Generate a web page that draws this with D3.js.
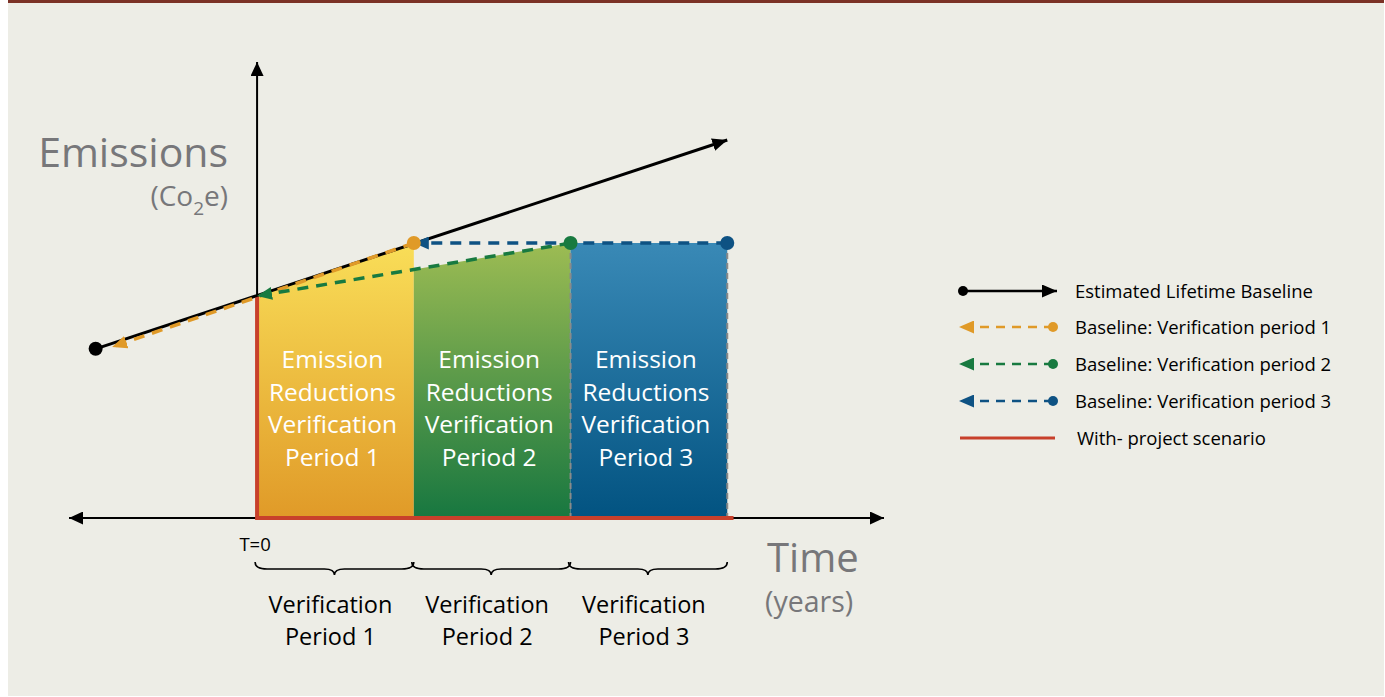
<!DOCTYPE html>
<html>
<head>
<meta charset="utf-8">
<script src="https://cdn.jsdelivr.net/npm/d3@7"></script>
<style>
  body { margin: 0; background: #fff; }
  svg { display: block; font-family: "Open Sans", sans-serif; }
</style>
</head>
<body>
<div id="chart"></div>
<script>
// Data (time in verification periods, emissions in arbitrary units)
const periods = [1, 2, 3]
const periodStart = [0, 1, 2]
const periodEnd = [1, 2, 3]
const periodLabels = ['Verification Period 1', 'Verification Period 2', 'Verification Period 3']
const areaLabels = ['Emission|Reductions|Verification|Period 1', 'Emission|Reductions|Verification|Period 2', 'Emission|Reductions|Verification|Period 3']
const areaTopStart = [4.87, 5.45, 6.03]
const areaTopEnd = [6.03, 6.03, 6.03]

// estimated lifetime baseline
const baselineT = [-1.03, 3]
const baselineE = [3.71, 8.29]

// baseline for each verification period (dot -> arrow)
const vpFromT = [1, 2, 3]
const vpToT = [-0.925, 0, 1]
const vpFromE = [6.03, 6.03, 6.03]
const vpToE = [3.75, 4.87, 6.03]

// with-project scenario
const projectT = [0, 0, 3.04]
const projectE = [4.87, 0, 0]

const legendLabels = ['Estimated Lifetime Baseline', 'Baseline: Verification period 1', 'Baseline: Verification period 2', 'Baseline: Verification period 3', 'With- project scenario']

// Dimensions & colours
const WIDTH = 1385
const HEIGHT = 697
const VP_COLORS = ['#e09a28', '#187a40', '#0e5283']
const AREA_GRAD = [['#f9de58', '#e09a28'], ['#9dbc53', '#177740'], ['#3989b6', '#025381']]
const RED = '#c8402b'

const svg = d3.select('#chart')
    .append('svg')
    .attr('width', WIDTH)
    .attr('height', HEIGHT)

svg.append('rect').attr('x', 8).attr('y', 0).attr('width', 1376).attr('height', 696).attr('fill', '#edede6')
svg.append('rect').attr('x', 8).attr('y', 0).attr('width', 1376).attr('height', 3).attr('fill', '#7b3226')

// Scales
const xScale = d3.scaleLinear().domain([-1.2, 4]).range([69, 884])
const yScale = d3.scaleLinear().domain([0, 10]).range([518, 62])

const defs = svg.append('defs')

// gradients
AREA_GRAD.forEach((c, i) => {
    const g = defs.append('linearGradient')
        .attr('id', `grad${i}`)
        .attr('x1', 0).attr('y1', 0).attr('x2', 0).attr('y2', 1)
    g.append('stop').attr('offset', '0%').attr('stop-color', c[0])
    g.append('stop').attr('offset', '100%').attr('stop-color', c[1])
})

// arrow markers
function arrow(id, color, len, half) {
    defs.append('marker')
        .attr('id', id)
        .attr('markerUnits', 'userSpaceOnUse')
        .attr('viewBox', `0 ${-half} ${len} ${half * 2}`)
        .attr('refX', len)
        .attr('refY', 0)
        .attr('markerWidth', len)
        .attr('markerHeight', half * 2)
        .attr('orient', 'auto')
        .append('path')
        .attr('d', `M0,${-half}L${len},0L0,${half}Z`)
        .attr('fill', color)
}
arrow('axisArrow', '#000', 14, 6.5)
arrow('blackArrow', '#000', 15, 6.5)
VP_COLORS.forEach((c, i) => arrow(`vpArrow${i}`, c, 15, 6.5))

const line = d3.line().x(d => xScale(d[0])).y(d => yScale(d[1]))

// Areas
periods.forEach((p, i) => {
    svg.append('path')
        .attr('d', line([[periodStart[i], 0], [periodStart[i], areaTopStart[i]], [periodEnd[i], areaTopEnd[i]], [periodEnd[i], 0]]) + 'Z')
        .attr('fill', `url(#grad${i})`)
})

// dashed grey borders of period 3
;[periodStart[2], periodEnd[2]].forEach(t => {
    svg.append('path')
        .attr('d', line([[t, areaTopEnd[2]], [t, 0]]))
        .attr('stroke', '#8a8a8a')
        .attr('stroke-width', 2)
        .attr('stroke-dasharray', '6,4')
        .attr('fill', 'none')
})

// Axes
svg.append('path')
    .attr('d', line([[3, 0], [-1.2, 0]]))
    .attr('stroke', '#000').attr('stroke-width', 2).attr('marker-end', 'url(#axisArrow)')
svg.append('path')
    .attr('d', line([[0, 0], [4, 0]]))
    .attr('stroke', '#000').attr('stroke-width', 2).attr('marker-end', 'url(#axisArrow)')
svg.append('path')
    .attr('d', line([[0, 0], [0, 10]]))
    .attr('stroke', '#000').attr('stroke-width', 2).attr('marker-end', 'url(#axisArrow)')

// With-project scenario
svg.append('path')
    .attr('d', line(projectT.map((t, i) => [t, projectE[i]])))
    .attr('stroke', RED).attr('stroke-width', 4).attr('fill', 'none')

// Estimated lifetime baseline
svg.append('path')
    .attr('d', line(baselineT.map((t, i) => [t, baselineE[i]])))
    .attr('stroke', '#000').attr('stroke-width', 3).attr('marker-end', 'url(#blackArrow)')
svg.append('circle')
    .attr('cx', xScale(baselineT[0])).attr('cy', yScale(baselineE[0])).attr('r', 7).attr('fill', '#000')

// Verification period baselines
vpFromT.forEach((t, i) => {
    svg.append('path')
        .attr('d', line([[t, vpFromE[i]], [vpToT[i], vpToE[i]]]))
        .attr('stroke', VP_COLORS[i])
        .attr('stroke-width', 3.5)
        .attr('stroke-dasharray', '11,8')
        .attr('fill', 'none')
        .attr('marker-end', `url(#vpArrow${i})`)
})
vpFromT.forEach((t, i) => {
    svg.append('circle')
        .attr('cx', xScale(t)).attr('cy', yScale(vpFromE[i])).attr('r', 7).attr('fill', VP_COLORS[i])
})

// Area labels
areaLabels.forEach((lab, i) => {
    const cx = (xScale(periodStart[i]) + xScale(periodEnd[i])) / 2 - 3
    const txt = svg.append('text')
        .attr('text-anchor', 'middle')
        .attr('fill', '#fff')
        .style('font-size', '24.5px')
    lab.split('|').forEach((s, j) => {
        txt.append('tspan').attr('x', cx).attr('y', 368 + j * 32.5).text(s)
    })
})

// Braces and period labels
periods.forEach((p, i) => {
    const x0 = xScale(periodStart[i]) - 2
    const x1 = xScale(periodEnd[i])
    const xm = (x0 + x1) / 2
    const y0 = 562
    const y1 = 569
    svg.append('path')
        .attr('d', `M${x0},${y0}Q${x0},${y1} ${x0 + 12},${y1}L${xm - 10},${y1}Q${xm},${y1} ${xm},${y1 + 6}Q${xm},${y1} ${xm + 10},${y1}L${x1 - 12},${y1}Q${x1},${y1} ${x1},${y0}`)
        .attr('stroke', '#000').attr('stroke-width', 1.6).attr('fill', 'none')
    const txt = svg.append('text')
        .attr('text-anchor', 'middle')
        .attr('fill', '#000')
        .style('font-size', '23.5px')
    const words = periodLabels[i].split(' ')
    txt.append('tspan').attr('x', xm - 4).attr('y', 613).text(words[0])
    txt.append('tspan').attr('x', xm - 4).attr('y', 645).text(words.slice(1).join(' '))
})

svg.append('text')
    .attr('x', xScale(0) - 2).attr('y', 551)
    .attr('text-anchor', 'middle')
    .style('font-size', '18.5px')
    .text('T=0')

// Axis titles
svg.append('text')
    .attr('x', 228).attr('y', 167)
    .attr('text-anchor', 'end')
    .attr('fill', '#77777a')
    .style('font-size', '41px')
    .text('Emissions')
const co2 = svg.append('text')
    .attr('x', 228).attr('y', 206)
    .attr('text-anchor', 'end')
    .attr('fill', '#77777a')
    .style('font-size', '28px')
co2.append('tspan').text('(Co')
co2.append('tspan').attr('dy', 9).style('font-size', '19px').text('2')
co2.append('tspan').attr('dy', -9).text('e)')

svg.append('text')
    .attr('x', 767).attr('y', 572)
    .attr('fill', '#77777a')
    .style('font-size', '40px')
    .text('Time')
svg.append('text')
    .attr('x', 765).attr('y', 612)
    .attr('fill', '#77777a')
    .style('font-size', '28.5px')
    .text('(years)')

// Legend
const LEG_Y = [291, 327, 364, 401, 438]
const legend = svg.append('g')
legendLabels.forEach((lab, i) => {
    const y = LEG_Y[i]
    if (i === 0) {
        legend.append('line').attr('x1', 963).attr('x2', 1057).attr('y1', y).attr('y2', y)
            .attr('stroke', '#000').attr('stroke-width', 2.5).attr('marker-end', 'url(#blackArrow)')
        legend.append('circle').attr('cx', 963).attr('cy', y).attr('r', 5).attr('fill', '#000')
    } else if (i < 4) {
        const c = VP_COLORS[i - 1]
        legend.append('line').attr('x1', 1053).attr('x2', 959).attr('y1', y).attr('y2', y)
            .attr('stroke', c).attr('stroke-width', 2.5).attr('stroke-dasharray', '9,7')
            .attr('marker-end', `url(#vpArrow${i - 1})`)
        legend.append('circle').attr('cx', 1053).attr('cy', y).attr('r', 5).attr('fill', c)
    } else {
        legend.append('line').attr('x1', 960).attr('x2', 1055).attr('y1', y).attr('y2', y)
            .attr('stroke', RED).attr('stroke-width', 3)
    }
    legend.append('text')
        .attr('x', i === 4 ? 1077 : 1075).attr('y', y + 6.5)
        .style('font-size', '18.5px')
        .attr('fill', '#000')
        .text(lab)
})
</script>
</body>
</html>
